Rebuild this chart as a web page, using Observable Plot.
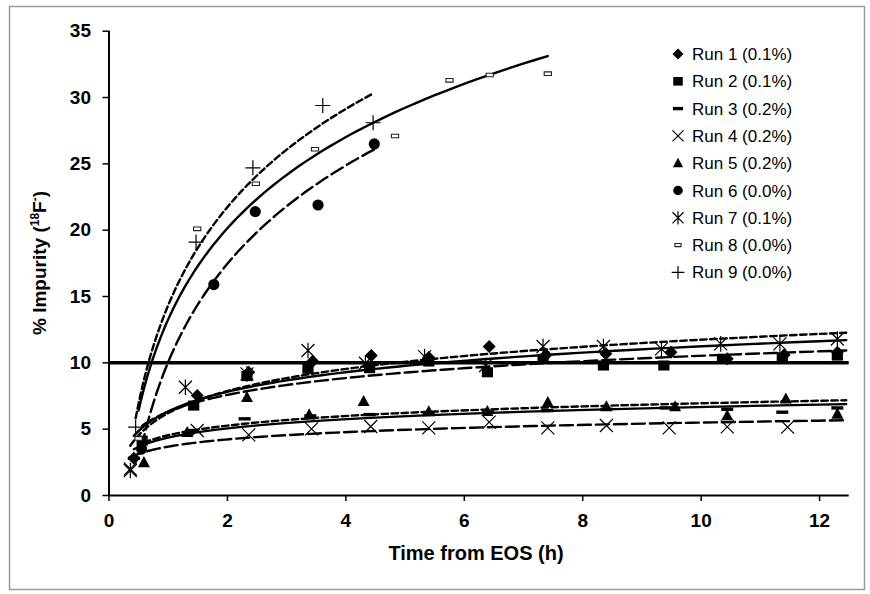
<!DOCTYPE html>
<html><head><meta charset="utf-8">
<script src="https://cdn.jsdelivr.net/npm/d3@7"></script>
<script src="https://cdn.jsdelivr.net/npm/@observablehq/plot@0.6"></script>
<style>
html,body{margin:0;padding:0;background:#fff;}
#chart{position:relative;width:870px;height:594px;}
</style></head><body><div id="chart"></div>
<script>
// ---------- DATA ----------
const runNames = ["Run 1 (0.1%)","Run 2 (0.1%)","Run 3 (0.2%)","Run 4 (0.2%)","Run 5 (0.2%)","Run 6 (0.0%)","Run 7 (0.1%)","Run 8 (0.0%)","Run 9 (0.0%)"];
const run1Time = [0.42,1.49,2.36,3.44,4.43,5.40,6.42,7.38,8.39,9.49,10.44,11.40,12.30];
const run1Impurity = [2.8,7.54,9.3,10.12,10.55,10.4,11.23,10.6,10.68,10.8,10.3,10.6,10.8];
const run2Time = [0.56,1.43,2.33,3.36,4.40,5.40,6.39,7.33,8.35,9.37,10.36,11.37,12.30];
const run2Impurity = [4.14,6.78,9.0,9.55,9.6,10.1,9.29,10.3,9.8,9.8,10.3,10.42,10.55];
const run3Time = [0.42,1.40,2.29,3.40,4.40,5.40,6.40,7.40,8.40,9.40,10.44,11.37,12.30];
const run3Impurity = [2.8,4.9,5.78,6.0,6.1,6.2,6.3,6.4,6.5,6.6,6.5,6.28,6.6];
const run4Time = [0.36,1.49,2.36,3.42,4.42,5.40,6.42,7.41,8.40,9.46,10.44,11.46];
const run4Impurity = [2.0,4.9,4.57,5.02,5.2,5.1,5.53,5.1,5.28,5.1,5.17,5.15];
const run5Time = [0.59,1.32,2.33,3.38,4.30,5.40,6.39,7.41,8.40,9.56,10.44,11.43,12.30];
const run5Impurity = [2.5,4.77,7.41,6.1,7.11,6.33,6.35,7.03,6.71,6.71,6.03,7.29,6.15];
const run6Time = [0.55,1.77,2.47,3.53,4.48];
const run6Impurity = [3.5,15.9,21.4,21.9,26.5];
const run7Time = [0.36,1.29,2.33,3.36,4.33,5.33,6.36,7.33,8.35,9.33,10.33,11.33,12.30];
const run7Impurity = [1.88,8.16,9.17,10.93,9.97,10.47,9.8,11.23,11.23,11.05,11.43,11.43,11.8];
const run8Time = [0.50,1.49,2.48,3.48,4.83,5.75,6.43,7.41];
const run8Impurity = [4.3,20.1,23.5,26.1,27.1,31.3,31.7,31.8];
const run9Time = [0.45,1.47,2.43,3.61,4.46];
const run9Impurity = [5.15,19.1,24.7,29.4,28.1];
const trendEnd = [12.45,12.45,12.45,12.45,12.45,null,12.45,null,null];
const yTicks = [0,5,10,15,20,25,30,35];
const xTicks = [0,2,4,6,8,10,12];
const limitLevel = 10;
const xTitle = "Time from EOS (h)";

// ---------- STYLE ----------
const times = [run1Time,run2Time,run3Time,run4Time,run5Time,run6Time,run7Time,run8Time,run9Time];
const vals = [run1Impurity,run2Impurity,run3Impurity,run4Impurity,run5Impurity,run6Impurity,run7Impurity,run8Impurity,run9Impurity];
const SHORT = "6.5,3.5", LONG = "13,5";
const dashes = [null, LONG, null, LONG, SHORT, LONG, SHORT, null, SHORT];

const rr = s => Math.sqrt(s/Math.PI);
const symDiamond = {draw(c,s){const r=rr(s);c.moveTo(0,-r);c.lineTo(r,0);c.lineTo(0,r);c.lineTo(-r,0);c.closePath();}};
const symSquare = {draw(c,s){const r=rr(s);c.rect(-r,-r*0.9,2*r,1.8*r);}};
const symDash = {draw(c,s){const r=rr(s);c.rect(-r,-1.7,2*r,3.4);}};
const symTimes = {draw(c,s){const r=rr(s);c.moveTo(-r,-r);c.lineTo(r,r);c.moveTo(-r,r);c.lineTo(r,-r);}};
const symTri = {draw(c,s){const r=rr(s);c.moveTo(0,-r*1.05);c.lineTo(r,r*0.8);c.lineTo(-r,r*0.8);c.closePath();}};
const symCircle = {draw(c,s){const r=rr(s);c.moveTo(r,0);c.arc(0,0,r,0,2*Math.PI);}};
const symAst = {draw(c,s){const r=rr(s);c.moveTo(-r,-r);c.lineTo(r,r);c.moveTo(-r,r);c.lineTo(r,-r);c.moveTo(0,-r*1.2);c.lineTo(0,r*1.2);}};
const symSmall = {draw(c,s){const r=rr(s);c.rect(-r,-r*0.5,2*r,r);}};
const symPlus = {draw(c,s){const r=rr(s);c.moveTo(-r,0);c.lineTo(r,0);c.moveTo(0,-r);c.lineTo(0,r);}};
const markerSpec = [
  {symbol:symDiamond, r:6.5, fill:"black", stroke:"none", sw:0},
  {symbol:symSquare, r:5.6, fill:"black", stroke:"none", sw:0},
  {symbol:symDash, r:6, fill:"black", stroke:"none", sw:0},
  {symbol:symTimes, r:6.5, fill:"none", stroke:"black", sw:1.2},
  {symbol:symTri, r:6, fill:"black", stroke:"none", sw:0},
  {symbol:symCircle, r:5.6, fill:"black", stroke:"none", sw:0},
  {symbol:symAst, r:6.5, fill:"none", stroke:"black", sw:1.2},
  {symbol:symSmall, r:3.6, fill:"white", stroke:"#222", sw:1.1},
  {symbol:symPlus, r:7.5, fill:"none", stroke:"black", sw:1.2}
];

function logFit(ts, vs){
  const lx = ts.map(Math.log), mx = d3.mean(lx), my = d3.mean(vs);
  let sxy=0, sxx=0;
  lx.forEach((l,i)=>{sxy+=(l-mx)*(vs[i]-my); sxx+=(l-mx)*(l-mx);});
  const a = sxy/sxx; return {a, b: my - a*mx};
}

const marks = [];
marks.push(Plot.ruleY([limitLevel], {stroke:"black", strokeWidth:3.5}));
times.forEach((ts,i)=>{
  const f = logFit(ts, vals[i]);
  const t0 = d3.min(ts), t1 = trendEnd[i] ?? d3.max(ts);
  const n = 90;
  const curve = d3.range(n+1).map(k=>{const t = t0*Math.pow(t1/t0,k/n); return {t, v:f.a*Math.log(t)+f.b};});
  marks.push(Plot.line(curve, {x:"t", y:"v", stroke:"black", strokeWidth:2.4, strokeDasharray: dashes[i] ?? undefined}));
});
times.forEach((ts,i)=>{
  const m = markerSpec[i];
  const pts = ts.map((t,k)=>({t, v: vals[i][k]}));
  marks.push(Plot.dot(pts, {x:"t", y:"v", symbol:m.symbol, r:m.r, fill:m.fill, stroke:m.stroke, strokeWidth:m.sw}));
});
marks.push(Plot.ruleX([0], {stroke:"black", strokeWidth:2}));
marks.push(Plot.ruleY([0], {stroke:"black", strokeWidth:2}));
marks.push(Plot.axisY({ticks:yTicks, tickSize:6, tickPadding:12, fontSize:19, fontWeight:"bold", strokeWidth:1.5, label:null}));
marks.push(Plot.axisX({ticks:xTicks, tickSize:6, tickPadding:12, fontSize:19, fontWeight:"bold", strokeWidth:1.5, label:null}));

const chart = Plot.plot({
  width:870, height:594,
  marginLeft:108.5, marginRight:21.3, marginTop:30.7, marginBottom:99,
  x:{domain:[0,12.5]}, y:{domain:[0,35]},
  style:{fontFamily:"'Liberation Sans', Arial, sans-serif", color:"black", background:"white"},
  marks
});
document.getElementById("chart").appendChild(chart);

const svg = d3.select(chart);
svg.insert("rect", ":first-child").attr("x",9.5).attr("y",6.5).attr("width",855).attr("height",583)
  .attr("fill","white").attr("stroke","#9a9a9a").attr("stroke-width",1.5);

// axis titles
const yt = svg.append("text").attr("transform","translate(46,263) rotate(-90)")
  .attr("text-anchor","middle").attr("font-size",19).attr("font-weight","bold").attr("fill","black");
yt.append("tspan").text("% Impurity (");
yt.append("tspan").attr("font-size",12).attr("dy",-7).text("18");
yt.append("tspan").attr("dy",7).text("F");
yt.append("tspan").attr("font-size",12).attr("dy",-7).text("-");
yt.append("tspan").attr("dy",7).text(")");
svg.append("text").attr("x",476).attr("y",560).attr("text-anchor","middle")
  .attr("font-size",20).attr("font-weight","bold").attr("fill","black").text(xTitle);

// legend
const lg = svg.append("g").attr("text-anchor","start");
runNames.forEach((name,i)=>{
  const m = markerSpec[i];
  const cy = 54 + 27.3*i;
  const scale = 0.85;
  lg.append("path").attr("transform",`translate(678,${cy})`)
    .attr("d", d3.symbol(m.symbol, Math.PI*(m.r*scale)**2)())
    .attr("fill", m.fill).attr("stroke", m.stroke).attr("stroke-width", m.sw);
  lg.append("text").attr("x",692).attr("y",cy+6).attr("text-anchor","start").attr("font-size",17).attr("fill","black").text(name);
});
</script></body></html>
